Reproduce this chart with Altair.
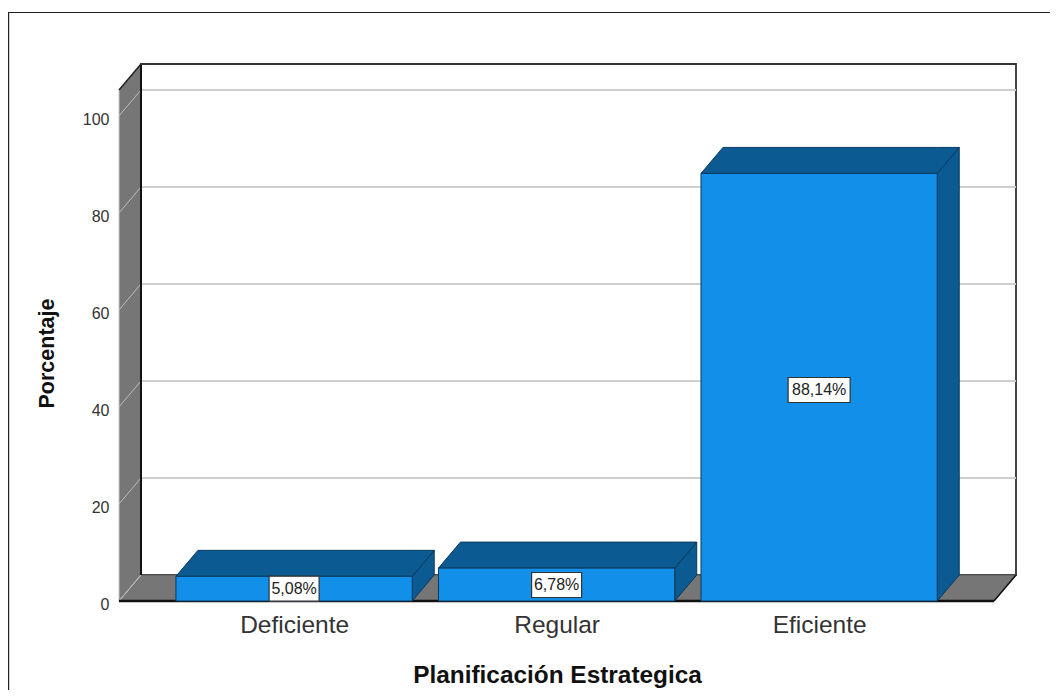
import altair as alt
import pandas as pd

categories = ["Deficiente", "Regular", "Eficiente"]
positions = [1, 2, 3]
percentages = [5.08, 6.78, 88.14]
labels = ["5,08%", "6,78%", "88,14%"]
label_heights = [2.54, 3.3, 43.5]
y_ticks = [0, 20, 40, 60, 80, 100]

# chart geometry in data units
X_MIN, X_MAX = 0.333, 3.75
Y_MIN, Y_MAX = 0, 110.7
DX, DY = 0.0838, 5.36
FRONT_R = X_MAX - DX
WALL_TOP = Y_MAX - DY
HALF = 0.45

X = alt.X(
    "x:Q",
    scale=alt.Scale(domain=[X_MIN, X_MAX]),
    title="Planificación Estrategica",
    axis=alt.Axis(
        values=positions, labelExpr="['Deficiente','Regular','Eficiente'][datum.value-1]",
        labelFontSize=24.5, labelColor="#333333", labelFont="Liberation Sans",
        labelPadding=12, ticks=False, domain=False, grid=False,
        titleFontSize=24.4, titleFont="Liberation Sans", titleFontWeight="bold",
        titleColor="#111111", titlePadding=27, titleX=438,
    ),
)
Y = alt.Y(
    "y:Q",
    scale=alt.Scale(domain=[Y_MIN, Y_MAX]),
    title="Porcentaje",
    axis=alt.Axis(
        values=y_ticks, labelFontSize=16, labelColor="#333333", labelFont="Liberation Sans",
        labelPadding=10, labelOffset=3.5, ticks=False, domain=False, grid=False,
        titleFontSize=21.5, titleFont="Liberation Sans", titleFontWeight="bold",
        titleColor="#111111", titlePadding=24, titleY=289,
    ),
)

# walls and floor
wall_back = pd.DataFrame({"x": [X_MIN + DX, X_MAX], "y": [DY, DY], "y2": [Y_MAX, Y_MAX]})
wall_left = pd.DataFrame(
    {"x": [X_MIN, X_MIN + DX], "y": [0, DY], "y2": [WALL_TOP, Y_MAX]}
)
floor = pd.DataFrame(
    {
        "x": [X_MIN, X_MIN + DX, FRONT_R, X_MAX],
        "y": [0, 0, 0, DY],
        "y2": [0, DY, DY, DY],
    }
)

grid_back = pd.DataFrame(
    {"x": [X_MIN + DX] * 5, "x2": [X_MAX] * 5, "y": [v + DY for v in y_ticks[1:]]}
)
grid_side = pd.DataFrame(
    [{"g": v, "x": X_MIN, "y": v} for v in y_ticks]
    + [{"g": v, "x": X_MIN + DX, "y": v + DY} for v in y_ticks]
)

# bar faces
tops, sides, fronts = [], [], []
for i, (p, v) in enumerate(zip(positions, percentages)):
    a, b = p - HALF, p + HALF
    tops += [
        {"g": i, "x": a, "y": v, "y2": v},
        {"g": i, "x": a + DX, "y": v, "y2": v + DY},
        {"g": i, "x": b, "y": v, "y2": v + DY},
        {"g": i, "x": b + DX, "y": v + DY, "y2": v + DY},
    ]
    sides += [
        {"g": i, "x": b, "y": 0, "y2": v},
        {"g": i, "x": b + DX, "y": DY, "y2": v + DY},
    ]
    fronts.append({"x": a, "x2": b, "y": 0, "y2": v})
tops, sides, fronts = map(pd.DataFrame, (tops, sides, fronts))
bar_labels = pd.DataFrame({"x": positions, "y": label_heights, "t": labels})
short_labels = bar_labels.iloc[:2]
long_labels = bar_labels.iloc[2:]

GRAY = "#767676"
DARK = "#0B5A91"
BLUE = "#128FE8"
EDGE = "#0A3A5E"


def area(df, fill, stroke, sw=1.0):
    enc = dict(x=X, y=Y, y2="y2:Q")
    if "g" in df:
        enc["detail"] = "g:N"
    return alt.Chart(df).mark_area(fill=fill, stroke=stroke, strokeWidth=sw, opacity=1).encode(**enc)


layers = [
    area(wall_back, "#FFFFFF", "#444444", 2),
    area(floor, GRAY, "#555555", 1),
    alt.Chart(grid_back).mark_rule(color="#CFCFCF", strokeWidth=2).encode(x=X, x2="x2:Q", y=Y),
    area(wall_left, GRAY, "#C8C8C8", 1),
    alt.Chart(grid_side).mark_line(color="#BDBDBD", strokeWidth=1).encode(x=X, y=Y, detail="g:N"),
    alt.Chart(pd.DataFrame({"x": [X_MIN + DX, X_MIN + DX], "y": [DY, Y_MAX]})).mark_line(color="#111111", strokeWidth=2).encode(x=X, y=Y),
    alt.Chart(pd.DataFrame({"x": [X_MIN, X_MIN + DX], "y": [WALL_TOP, Y_MAX]})).mark_line(color="#222222", strokeWidth=1.5).encode(x=X, y=Y),
    alt.Chart(pd.DataFrame({"x": [X_MIN + DX, X_MAX], "y": [Y_MAX, Y_MAX]})).mark_line(color="#333333", strokeWidth=2).encode(x=X, y=Y),
    alt.Chart(pd.DataFrame({"x": [X_MIN, FRONT_R], "y": [0, 0]})).mark_line(color="#111111", strokeWidth=2.5).encode(x=X, y=Y),
    alt.Chart(pd.DataFrame({"x": [FRONT_R, X_MAX], "y": [0, DY]})).mark_line(color="#111111", strokeWidth=1.5).encode(x=X, y=Y),
    area(sides, DARK, EDGE),
    area(tops, DARK, EDGE),
    alt.Chart(fronts).mark_rect(fill=BLUE, stroke=EDGE, strokeWidth=1).encode(x=X, x2="x2:Q", y=Y, y2="y2:Q"),
    alt.Chart(short_labels).mark_rect(width=50, height=25, fill="white", stroke="#333333", strokeWidth=1.2).encode(x=X, y=Y),
    alt.Chart(long_labels).mark_rect(width=62, height=25, fill="white", stroke="#333333", strokeWidth=1.2).encode(x=X, y=Y),
    alt.Chart(bar_labels).mark_text(font="Liberation Sans", fontSize=16, color="#222222").encode(x=X, y=Y, text="t:N"),
    # outer frame
    alt.Chart(pd.DataFrame({"a": [0]})).mark_rule(color="#222222", strokeWidth=1.2).encode(
        x=alt.value(-110.4), y=alt.value(-51.5), y2=alt.value(630)
    ),
    alt.Chart(pd.DataFrame({"a": [0]})).mark_rule(color="#222222", strokeWidth=1.2).encode(
        x=alt.value(-111), x2=alt.value(935), y=alt.value(-51.5)
    ),
]

chart = (
    alt.layer(*layers)
    .properties(
        width=897, height=537,
        padding={"left": 111, "top": 56, "right": 34, "bottom": 89},
        autosize=alt.AutoSizeParams(type="none"),
        background="white",
    )
    .configure_view(stroke=None)
)
chart.save("out.html", embed_options={"renderer": "svg", "actions": False})
